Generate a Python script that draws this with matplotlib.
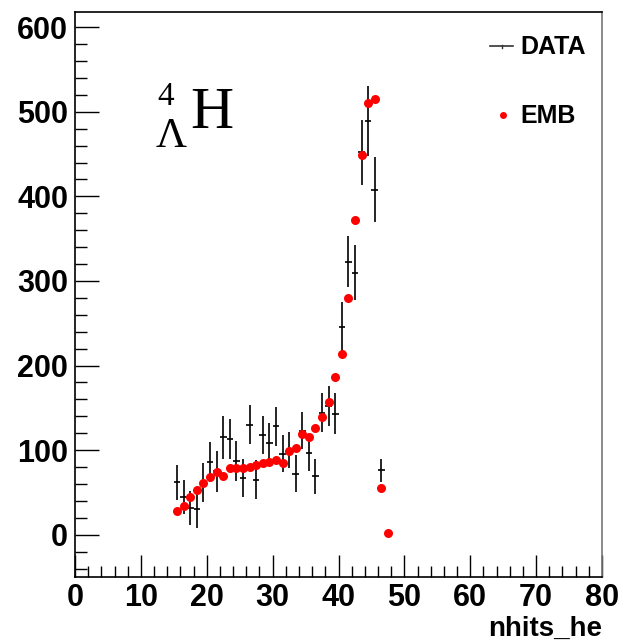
import numpy as np
import matplotlib
matplotlib.use('Agg')
import matplotlib.pyplot as plt
from matplotlib.ticker import MultipleLocator

# bin centres (nhits_he)
bins = np.arange(15, 48) + 0.5

data_vals = [62, 45, 32, 30, 62, 86, 75, 115, 113, 87, 67, 130, 65, 118, 108, 128,
             96, 100, 72, 123, 97, 69, 144, 152, 143, 246, 323, 310, 452, 489, 408, 76, 1]
data_errs = [21, 20, 20, 22, 23, 24, 24, 25, 24, 24, 23, 23, 23, 22, 24, 23,
             22, 21, 22, 22, 22, 21, 23, 24, 24, 29, 30, 32, 38, 41, 38, 14, 1]
emb_vals = [28, 34, 44, 53, 61, 68, 74, 69, 79, 79, 79, 80, 83, 85, 86, 88,
            85, 99, 102, 119, 115, 126, 139, 157, 187, 214, 280, 372, 449, 510, 515, 55, 2]

plt.rcParams['font.family'] = ['Liberation Sans', 'DejaVu Sans']
plt.rcParams['font.weight'] = 'bold'

fig = plt.figure(figsize=(6.19, 6.42), dpi=100)
ax = fig.add_axes([75/619, 1 - 577/642, (602 - 75)/619, (577 - 12)/642])

ax.errorbar(bins, data_vals, yerr=data_errs, xerr=0.5, fmt='none',
            ecolor='black', elinewidth=1.2, capsize=0, zorder=2)
ax.plot(bins, emb_vals, 'o', color='#ff0000', markersize=6.5,
        markeredgewidth=0, zorder=3)

ax.set_xlim(0, 80)
ax.set_ylim(-50, 618)
ax.xaxis.set_major_locator(MultipleLocator(10))
ax.xaxis.set_minor_locator(MultipleLocator(2))
ax.yaxis.set_major_locator(MultipleLocator(100))
ax.yaxis.set_minor_locator(MultipleLocator(20))

ax.tick_params(axis='both', which='both', direction='in', top=False, right=False,
               labelsize=22, width=1)
ax.tick_params(axis='x', which='major', length=16, pad=4)
ax.tick_params(axis='x', which='minor', length=8)
ax.tick_params(axis='y', which='major', length=17, pad=5)
ax.tick_params(axis='y', which='minor', length=8.5)
for lab in ax.get_xticklabels() + ax.get_yticklabels():
    lab.set_fontweight('bold')

for s in ['left', 'top', 'bottom']:
    ax.spines[s].set_linewidth(1.2)
    ax.spines[s].set_color('black')
ax.spines['right'].set_color('#777777')
ax.spines['right'].set_linewidth(1.2)

fig.text(602/619, 1 - 636/642, 'nhits_he', ha='right', va='baseline',
         fontsize=20, fontweight='bold')

# legend
fig.text(520/619, 1 - 47/642, 'DATA', ha='left', va='center', fontsize=18, fontweight='bold')
fig.text(520/619, 1 - 116/642, 'EMB', ha='left', va='center', fontsize=18, fontweight='bold')
fig.add_artist(plt.Line2D([490/619, 513/619], [1 - 46/642, 1 - 46/642],
                          color='#333333', linewidth=1.2))
fig.add_artist(plt.Line2D([501.5/619, 501.5/619], [1 - 44.5/642, 1 - 47.5/642],
                          color='#333333', linewidth=1))
fig.add_artist(plt.Line2D([503/619], [1 - 115/642], marker='o', color='#ff0000',
                          markersize=5, markeredgewidth=0, linestyle='none'))

# hypertriton label
serif = ['Liberation Serif', 'DejaVu Serif']
fig.text(157/619, 1 - 105/642, '4', family=serif, fontsize=24, ha='left', va='baseline',
         fontweight='normal')
fig.text(156/619, 1 - 147/642, 'Λ', family=serif, fontsize=31, ha='left', va='baseline',
         fontweight='normal')
fig.text(190/619, 1 - 128/642, 'H', family=serif, fontsize=43, ha='left', va='baseline',
         fontweight='normal')

fig.savefig('out.png', dpi=100)
